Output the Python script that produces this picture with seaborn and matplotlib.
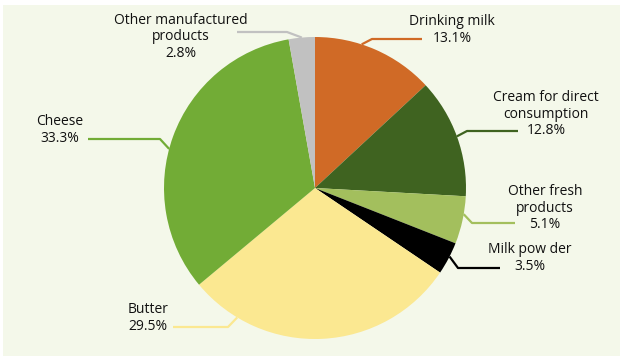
import matplotlib
matplotlib.use('Agg')
import numpy as np
import matplotlib.pyplot as plt
import seaborn as sns
from matplotlib.patches import Rectangle

# shares of milk use (%), clockwise from 12 o'clock
categories = ['Drinking milk', 'Cream for direct\nconsumption', 'Other fresh\nproducts',
              'Milk pow der', 'Butter', 'Cheese', 'Other manufactured\nproducts']
shares = [13.1, 12.8, 5.1, 3.5, 29.5, 33.3, 2.8]
colors = ['#d06a26', '#3f6320', '#a3bf5d', '#000000', '#fbe891', '#72ac36', '#c1c1c1']

W, H = 620, 357
CX, CY, R = 315, 188, 151  # pie centre / radius, pixels from top-left
BG = '#f4f8ea'

# label layout (pixels, y down): text centre, rim angle, elbow x, line y, line end x
label_layout = [
    (452, 30, 72, 372, 39, 422),
    (546, 114, 20, 467, 131, 518),
    (545, 208, -10, 472, 223, 515),
    (530, 258, -27, 458, 268, 500),
    (148, 318, -121, 228, 327, 173),
    (60, 130, 165, 160, 139, 88),
    (181, 37, 95, 287, 32, 237),
]


def main():
    sns.set_theme(style='white')
    plt.rcParams['font.family'] = ['Open Sans', 'DejaVu Sans']

    fig = plt.figure(figsize=(W / 100, H / 100), dpi=100)
    fig.patch.set_facecolor('white')
    ax = fig.add_axes([0, 0, 1, 1])

    ax.add_patch(Rectangle((3, H - 356), W - 3, 351, facecolor=BG, edgecolor='none', zorder=0))

    ax.pie(shares, colors=colors, startangle=90, counterclock=False,
           center=(CX, H - CY), radius=R, wedgeprops=dict(linewidth=0))

    for cat, val, col, (tx, ty, ang, ex, ly, lx) in zip(categories, shares, colors, label_layout):
        rx = CX + R * np.cos(np.radians(ang))
        ry = CY - R * np.sin(np.radians(ang))
        ax.plot([rx, ex, lx], [H - ry, H - ly, H - ly], color=col, lw=1.6,
                solid_capstyle='butt', zorder=3)
        ax.text(tx, H - ty, f'{cat}\n{val}%', ha='center', va='center',
                multialignment='center', fontsize=10, color='#111111', linespacing=1.15)

    ax.set_xlim(0, W)
    ax.set_ylim(0, H)
    ax.set_aspect('auto')
    ax.axis('off')
    fig.savefig('out.png', dpi=100, facecolor='white')
    plt.close(fig)


if __name__ == '__main__':
    main()
